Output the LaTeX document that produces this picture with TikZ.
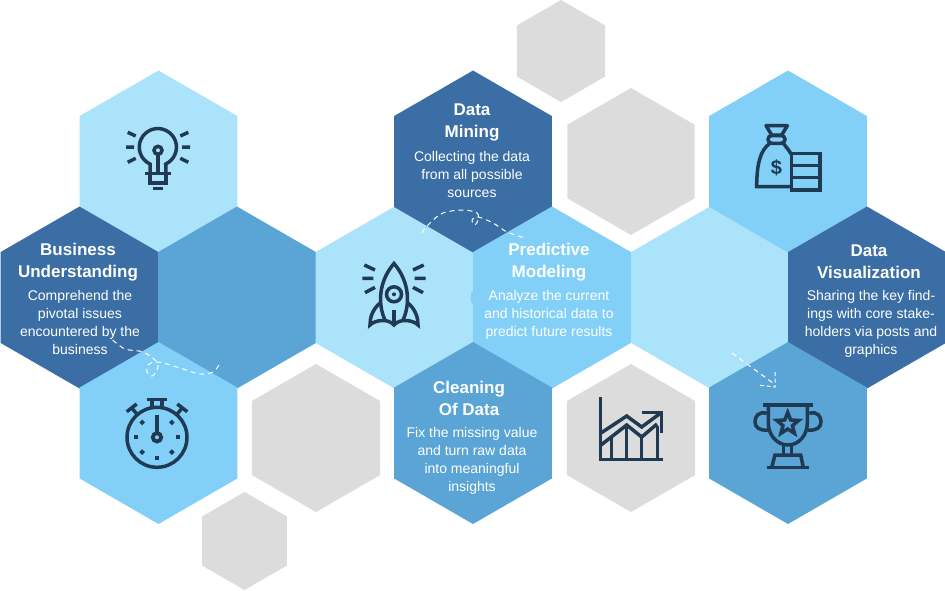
\documentclass[tikz,border=0pt]{standalone}
\usepackage{fontspec}
\setmainfont{Liberation Sans}
\usetikzlibrary{shapes.geometric,calc}
\definecolor{hexdark}{HTML}{3A6EA5}
\definecolor{hexmid}{HTML}{5AA4D6}
\definecolor{hexsky}{HTML}{82D0F7}
\definecolor{hexlight}{HTML}{ABE4FA}
\definecolor{hexgray}{HTML}{DCDCDC}
\definecolor{iconink}{HTML}{1F3A52}
\tikzset{
  hexa/.style={regular polygon,regular polygon sides=6,shape border rotate=30,inner sep=0pt,outer sep=0pt,minimum size=182pt,fill=#1},
  headtxt/.style={text=white,align=center,inner sep=0pt,font=\fontsize{17}{22}\selectfont\bfseries},
  bodytxt/.style={text=white,align=center,inner sep=0pt,font=\fontsize{14}{18}\selectfont},
  ink/.style={draw=iconink,line width=3.5pt,fill=none},
  flow/.style={draw=white,line width=1pt,dash pattern=on 5pt off 4pt,fill=none},
}
\begin{document}
\begin{tikzpicture}[x=1pt,y=-1pt]
\useasboundingbox (0,0) rectangle (945,590);
% gray hexagons
\node[hexa=hexgray,minimum size=102pt] (g1) at (561,51) {};
\node[hexa=hexgray,minimum size=147pt] (g2) at (631,161.5) {};
\node[hexa=hexgray,minimum size=148pt] (g3) at (316,438) {};
\node[hexa=hexgray,minimum size=148pt] (g4) at (631,438) {};
\node[hexa=hexgray,minimum size=98pt] (g5) at (244.5,541) {};
% coloured hexagons
\node[hexa=hexlight] (bulbhex) at (158.5,161.5) {};
\node[hexa=hexdark] (business) at (79.5,297.5) {};
\node[hexa=hexmid] (midhex) at (237,297.5) {};
\node[hexa=hexsky] (timerhex) at (158.5,433) {};
\node[hexa=hexlight] (rockethex) at (394.5,297.5) {};
\node[hexa=hexdark] (mining) at (473,161.5) {};
\node[hexa=hexsky] (predictive) at (552,297.5) {};
\node[hexa=hexmid] (cleaning) at (473,433) {};
\node[hexa=hexlight] (lighthex) at (710,297.5) {};
\node[hexa=hexsky] (moneyhex) at (788,161.5) {};
\node[hexa=hexdark] (visual) at (867,297.5) {};
\node[hexa=hexmid] (trophyhex) at (788,433) {};
\fill[hexsky] (473.5,290) .. controls (469.5,293) and (469.5,302) .. (473.5,305) -- cycle;
% texts
\node[headtxt] (t1) at (78,262.5) {Business\\Understanding};
\node[bodytxt] (b1) at (80,322) {Comprehend the\\pivotal issues\\encountered by the\\business};
\node[headtxt] (t2) at (472,122.5) {Data\\Mining};
\node[bodytxt] (b2) at (472,174) {Collecting the data\\from all possible\\sources};
\node[headtxt] (t3) at (549,262.5) {Predictive\\Modeling};
\node[bodytxt] (b3) at (549,315) {Analyze the current\\and historical data to\\predict future results};
\node[headtxt] (t4) at (469,398) {Cleaning\\Of Data};
\node[bodytxt] (b4) at (472,461) {Fix the missing value\\and turn raw data\\into meaningful\\insights};
\node[headtxt] (t5) at (869,262) {Data\\Visualization};
\node[bodytxt] (b5) at (871,324) {Sharing the key find-\\ings with core stake-\\holders via posts and\\graphics};
% dashed flows
\coordinate (f1a) at (112.7,340);
\coordinate (f1b) at (219,365);
\coordinate (f2a) at (421.7,232.7);
\coordinate (f2b) at (525,238);
\coordinate (f3a) at (732,353);
\coordinate (f3b) at (773,383);
\coordinate (f3tip) at (775,387);
\coordinate (f3u) at (775,372);
\coordinate (f3l) at (758,385);
\draw[flow] plot[smooth,tension=0.55] coordinates {(f1a) (125,349) (143,352) (157,362) (157,370) (152,376) (147,372) (148,365) (158,362) (180,368) (200,374) (213,372) (f1b)};
\draw[flow] plot[smooth,tension=0.55] coordinates {(f2a) (430,223) (443,213) (463,210) (477,213) (478,220) (475,225) (472,220) (478,217) (493,223) (507,232) (f2b)};
\draw[flow] (f3a) -- (f3b);
\draw[flow,dash pattern=on 4pt off 2.5pt] (f3u) -- (f3tip) -- (f3l);
% bulb icon
\draw[ink] (150,173) -- (150,164) arc[start angle=245,end angle=-65,radius=18.6pt] -- (166,173);
\draw[ink] (145,173.5) -- (171,173.5) (150,173.5) -- (150,183) -- (166,183) -- (166,173.5);
\draw[ink] (152.7,188.5) -- (163.3,188.5);
\draw[ink] (158,154) -- (158,173);
\draw[ink] (158,150.3) circle[radius=4pt];
\draw[ink] (127.7,132.3) -- (135.7,136) (126,147) -- (134,147) (127.7,162.3) -- (135.7,158.3)
  (188.3,132.3) -- (180.3,136) (190,147) -- (182,147) (188.3,162.3) -- (180.3,158.3);
% stopwatch icon
\draw[ink] (157,437.3) circle[radius=30pt];
\draw[ink] (146.7,399.3) -- (167.3,399.3) (152,399.3) -- (152,408) (162,399.3) -- (162,408);
\draw[ink] (126.7,411.7) -- (136.7,404) (131.7,408) -- (136.5,413.5) (187.3,411.7) -- (177.3,404) (182.3,408) -- (177.5,413.5);
\draw[ink] (157,415) -- (157,433);
\draw[ink,line width=3.8pt] (157,437.3) circle[radius=4.2pt];
\foreach \a in {0,90,180}{\fill[iconink] ($(157,437.3)+(\a:21)$) ++(-2,-2) rectangle ++(4,4);}
\foreach \a in {45,135,225,315}{\fill[iconink,rotate around={45:($(157,437.3)+(\a:21)$)}] ($(157,437.3)+(\a:21)$) ++(-2,-2) rectangle ++(4,4);}
% rocket icon
\draw[ink] (385,320) .. controls (378,305) and (378,282) .. (394,263.5) .. controls (410,282) and (410,305) .. (403,320);
\draw[ink] (380,303) .. controls (372,310) and (370,318) .. (370,325) .. controls (375,320) and (388,318) .. (394,325) .. controls (400,318) and (413,320) .. (418,325) .. controls (418,318) and (416,310) .. (408,303);
\draw[ink] (394,310) -- (394,325);
\draw[ink] (394,294.3) circle[radius=7.5pt];
\fill[iconink] (394,294.3) circle[radius=2pt];
\draw[ink] (364.3,265) -- (375,270) (362.3,278.3) -- (373.3,278.3) (365,292.7) -- (375,287.3)
  (423.7,265) -- (413,270) (425.7,278.3) -- (414.7,278.3) (423,292.7) -- (413,287.3);
% chart icon
\draw[ink] (600.3,397.3) -- (600.3,459.3) (598.5,459.3) -- (662.7,459.3);
\draw[ink] (611.7,437) -- (611.7,459) (626.7,425) -- (626.7,459) (641.7,437) -- (641.7,459) (657.3,426) -- (657.3,459);
\draw[ink] (601,433) -- (626.7,416) -- (641.7,427) -- (660,413.5);
\draw[ink] (601,445) -- (626.7,425) -- (641.7,437) -- (657,424);
\draw[ink] (641.7,412.7) -- (661.7,412.7) -- (661.7,432.7);
% money icon
\draw[ink,line join=round] (766,125.7) -- (787.3,125.7) -- (781.7,135) -- (771.7,135) -- cycle;
\draw[ink,rounded corners=3.8pt] (768,135.5) rectangle (785,143.3);
\draw[ink] (770,143.3) .. controls (760,150) and (756.7,165) .. (756.7,186.7) -- (791,186.7);
\draw[ink] (783.3,143.3) .. controls (786,147) and (789,150) .. (791,154);
\draw[ink] (791.7,153.3) rectangle (820,190);
\draw[ink] (791.7,165.5) -- (820,165.5) (791.7,177.7) -- (820,177.7);
\node[text=iconink,inner sep=0pt,font=\fontsize{20}{20}\selectfont\bfseries] (dollar) at (776.5,167.5) {\$};
% trophy icon
\draw[ink] (762.7,405) -- (813.3,405);
\draw[ink] (768.3,405) -- (768.3,423) .. controls (768.3,435) and (777,445) .. (788,445) .. controls (799,445) and (807.3,435) .. (807.3,423) -- (807.3,405);
\draw[ink] (766.7,413.3) .. controls (758,411) and (755,417) .. (755,421.7) .. controls (755,427) and (759,431) .. (768,430);
\draw[ink] (809.3,413.3) .. controls (818,411) and (821,417) .. (821,421.7) .. controls (821,427) and (817,431) .. (808,430);
\draw[ink] (783.3,445) -- (783.3,455) (791.7,445) -- (791.7,455);
\draw[ink] (771.7,467.3) -- (775,455) -- (800.7,455) -- (803.3,467.3);
\draw[ink] (766.7,467.3) -- (809.3,467.3);
\node[star,star points=5,star point ratio=2.3,draw=iconink,line width=3.5pt,inner sep=0pt,minimum size=23pt] (trophystar) at (787.7,424) {};
\end{tikzpicture}
\end{document}
